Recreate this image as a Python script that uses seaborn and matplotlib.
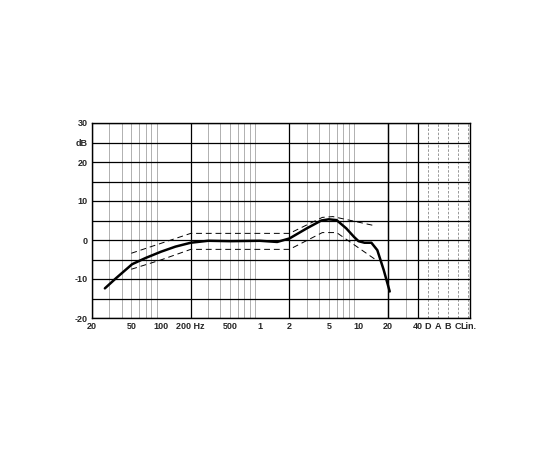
"""Microphone frequency response chart."""

import matplotlib.pyplot as plt
import numpy as np
import pandas as pd
import seaborn as sns

# solid response curve (Hz, dB)
resp_freq = [27, 35, 51, 70, 100, 140, 200, 300, 500, 1000, 1500, 2000, 3000,
             4200, 5000, 6000, 7500, 9000, 10000, 11500, 13500, 15500, 18000, 20700]
resp_db = [-12.4, -9.8, -6.2, -4.6, -3.0, -1.7, -0.7, -0.2, -0.3, -0.2, -0.5, 0.4, 3.0,
           5.0, 5.3, 5.1, 3.0, 0.8, -0.3, -0.7, -0.7, -2.6, -7.7, -13.2]
# tolerance limits
upper_freq = [50, 200, 2000, 4300, 5500, 15000]
upper_db = [-3.4, 1.7, 1.7, 5.8, 6.0, 3.6]
lower_freq = [50, 100, 200, 2000, 4300, 6000, 15000]
lower_db = [-7.5, -5.1, -2.4, -2.4, 1.9, 1.9, -5.1]

xticks = [20, 50, 100, 200, 500, 1000, 2000, 5000, 10000, 20000, 40000]
xlabels = ["20", "50", "100", "200 Hz", "500", "1", "2", "5", "10", "20", "40"]
weight_freq = [50500, 63800, 80500, 101700, 128500]
weight_labels = ["D", "A", "B", "C", "Lin."]
ytick_vals = [30, 25, 20, 10, 0, -10, -20]
ytick_labels = ["30", "dB", "20", "10", "0", "-10", "-20"]

sns.set_style("white")
plt.rcParams["font.family"] = ["Liberation Sans", "DejaVu Sans"]

fig = plt.figure(figsize=(5.5, 4.5), dpi=100)
ax = fig.add_axes([92 / 550, 132 / 450, 378 / 550, 195 / 450])
ax.set_xscale("log")
xmax = 134600
ax.set_xlim(20, xmax)
ax.set_ylim(-20, 30)

# grid
for dec in [10, 100, 1000, 10000]:
    for m in range(2, 10):
        f = dec * m
        if f < 20 or f > 40000:
            continue
        dark = f in (20, 100, 200, 1000, 2000, 10000, 20000, 40000)
        ax.axvline(f, color="black" if dark else "#b0b0b0",
                   lw=0.9 if dark else 0.7, zorder=1)
ax.axvline(20000, color="black", lw=0.9, zorder=1)
for f in weight_freq:
    ax.axvline(f, color="#888888", lw=0.6, ls=(0, (3, 2)), zorder=1)
for y in range(-20, 31, 5):
    ax.axhline(y, color="black", lw=0.9, zorder=1)

df = pd.DataFrame({"f": resp_freq, "db": resp_db})
sns.lineplot(data=df, x="f", y="db", color="black", lw=1.8, ax=ax, zorder=3)
sns.lineplot(x=upper_freq, y=upper_db, color="black", lw=0.7, ls=(0, (6, 4)), ax=ax, zorder=2)
sns.lineplot(x=lower_freq, y=lower_db, color="black", lw=0.7, ls=(0, (6, 4)), ax=ax, zorder=2)

ax.set_xticks(xticks + weight_freq)
ax.set_xticklabels(xlabels + weight_labels)
ax.minorticks_off()
ax.set_xticks([], minor=True)
ax.set_yticks(ytick_vals)
ax.set_yticklabels(ytick_labels)
ax.tick_params(length=0, labelsize=6.5, pad=3)
for t in ax.get_xticklabels() + ax.get_yticklabels():
    t.set_fontweight("bold")
ax.set_xlabel("")
ax.set_ylabel("")
for s in ax.spines.values():
    s.set_color("black")
    s.set_linewidth(1.0)

fig.savefig("out.png", dpi=100)
